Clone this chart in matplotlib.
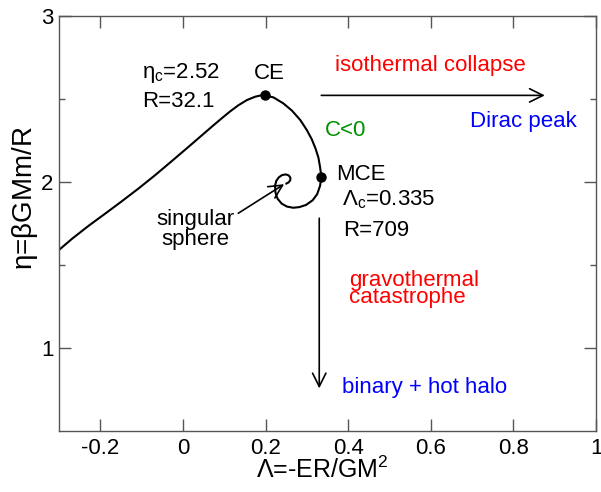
import matplotlib
matplotlib.use('Agg')
import matplotlib.pyplot as plt
from matplotlib.ticker import FixedLocator

plt.rcParams['font.family'] = ['Liberation Sans', 'DejaVu Sans']
plt.rcParams['mathtext.fontset'] = 'custom'
plt.rcParams['mathtext.rm'] = 'Liberation Sans'
plt.rcParams['mathtext.it'] = 'Liberation Sans'
plt.rcParams['mathtext.default'] = 'regular'
plt.rcParams['axes.unicode_minus'] = False

# ---- data ----
lam = [-0.300, -0.268, -0.228, -0.188, -0.148, -0.107, -0.067, -0.027, 0.0135, 0.034,
       0.054, 0.074, 0.094, 0.114, 0.134, 0.155, 0.175, 0.187, 0.198,
       0.219, 0.243, 0.264, 0.284, 0.300, 0.312, 0.321, 0.328, 0.332, 0.335,
       0.332, 0.325, 0.314, 0.298, 0.282, 0.267, 0.252, 0.239, 0.229, 0.224,
       0.223, 0.226, 0.232, 0.240, 0.249, 0.256, 0.260, 0.260, 0.256, 0.250]
eta = [1.589, 1.657, 1.735, 1.808, 1.882, 1.960, 2.040, 2.124, 2.210, 2.254,
       2.297, 2.340, 2.382, 2.423, 2.460, 2.492, 2.512, 2.519, 2.520,
       2.508, 2.472, 2.428, 2.372, 2.311, 2.255, 2.200, 2.145, 2.088, 2.030,
       1.975, 1.925, 1.888, 1.860, 1.847, 1.843, 1.850, 1.868, 1.898, 1.935,
       1.975, 2.005, 2.026, 2.040, 2.044, 2.038, 2.025, 2.010, 1.996, 1.988]
crit_lam = [0.198, 0.335]
crit_eta = [2.52, 2.03]

xticks = [-0.2, 0.0, 0.2, 0.4, 0.6, 0.8, 1.0]
xtick_labels = ['-0.2', '0', '0.2', '0.4', '0.6', '0.8', '1']
yticks = [1, 2, 3]
ytick_labels = ['1', '2', '3']
yminor = [1.5, 2.5]

fig = plt.figure(figsize=(6.01, 4.92), dpi=100)
ax = fig.add_axes([59/601, (492-430.7)/492, 537/601, 415/492])

ax.plot(lam, eta, color='black', lw=1.5, solid_joinstyle='round', solid_capstyle='round')
ax.plot(crit_lam, crit_eta, 'o', color='black', ms=6.5)

ax.set_xlim(-0.3, 1.0)
ax.set_ylim(0.5, 3.0)
ax.set_xticks(xticks)
ax.set_xticklabels(xtick_labels)
ax.set_yticks(yticks)
ax.set_yticklabels(ytick_labels)
ax.yaxis.set_minor_locator(FixedLocator(yminor))

axc = '#555555'
for s in ax.spines.values():
    s.set_color(axc)
    s.set_linewidth(1.0)
ax.tick_params(which='both', direction='in', top=True, right=True, color=axc, width=1.0)
ax.tick_params(which='major', length=8.6)
ax.tick_params(which='minor', length=4.3)
ax.tick_params(axis='x', labelsize=16, pad=5)
ax.tick_params(axis='y', labelsize=16, pad=4)

ax.set_xlabel(r'$\Lambda$=-ER/GM$^2$', fontsize=18)
ax.xaxis.set_label_coords(0.49, -0.095)
ax.xaxis.label.set_va('center')
ax.set_ylabel(r'$\eta$=$\beta$GMm/R', fontsize=20)
ax.yaxis.set_label_coords(-0.064, 0.561)
ax.yaxis.label.set_va('center')
ax.yaxis.label.set_ha('center')

fs = 16
ax.text(-0.099, 2.625, r'$\eta_c$=2.52', fontsize=fs, ha='left', va='baseline')
ax.text(-0.099, 2.450, 'R=32.1', fontsize=fs, ha='left', va='baseline')
ax.text(0.209, 2.617, 'CE', fontsize=fs, ha='center', va='baseline')
ax.text(0.368, 2.669, 'isothermal collapse', fontsize=fs, color='#ff0000', ha='left', va='baseline')
ax.text(0.695, 2.328, 'Dirac peak', fontsize=fs, color='#0000ff', ha='left', va='baseline')
ax.text(0.344, 2.275, 'C<0', fontsize=fs, color='#009000', ha='left', va='baseline')
ax.text(0.372, 2.010, 'MCE', fontsize=fs, ha='left', va='baseline')
ax.text(0.385, 1.860, r'$\Lambda_c$=0.335', fontsize=fs, ha='left', va='baseline')
ax.text(0.388, 1.673, 'R=709', fontsize=fs, ha='left', va='baseline')
ax.text(0.403, 1.267, 'gravothermal\ncatastrophe', fontsize=fs, color='#ff0000',
        ha='left', va='baseline', linespacing=0.78)
ax.text(0.385, 0.725, 'binary + hot halo', fontsize=fs, color='#0000ff', ha='left', va='baseline')
ax.text(0.030, 1.619, 'singular\nsphere', fontsize=fs, ha='center', va='baseline',
        linespacing=0.92, multialignment='center')

arrow = dict(arrowstyle='->,head_length=0.6,head_width=0.3', lw=1.2, color='black',
             shrinkA=0, shrinkB=0, mutation_scale=16)
ax.annotate('', xy=(0.876, 2.52), xytext=(0.335, 2.52), arrowprops=arrow)
ax.annotate('', xy=(0.330, 0.755), xytext=(0.330, 1.78), arrowprops=arrow)
ax.annotate('', xy=(0.245, 1.985), xytext=(0.134, 1.81), arrowprops=arrow)

fig.savefig('out.png', dpi=100)
